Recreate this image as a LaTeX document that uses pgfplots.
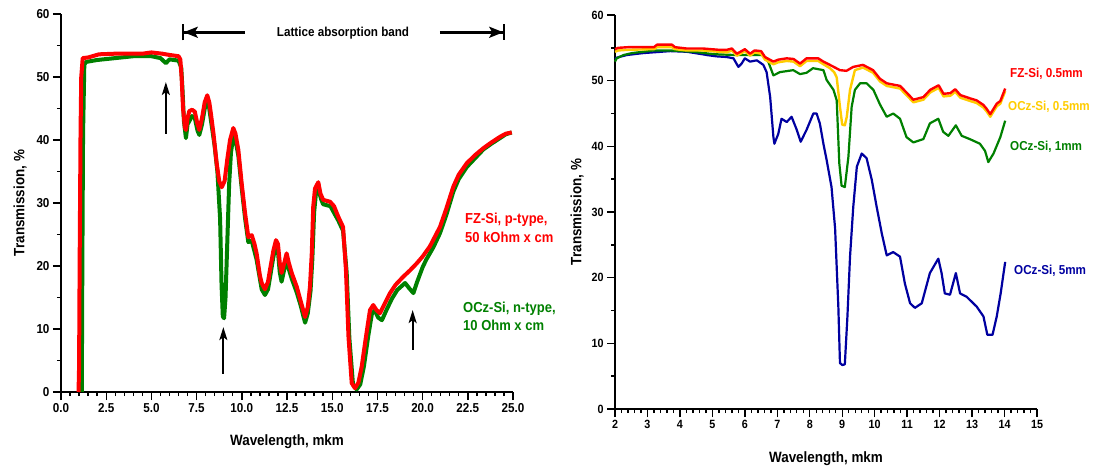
\documentclass[border=0pt]{standalone}
\usepackage{fontspec}
\setmainfont{Liberation Sans}[FakeStretch=0.9]
\usepackage{pgfplots}
\pgfplotsset{compat=1.18}
\usetikzlibrary{arrows.meta}

\definecolor{fzred}{RGB}{255,0,0}
\definecolor{czgreen}{RGB}{0,128,0}
\definecolor{czyellow}{RGB}{255,204,0}
\definecolor{czblue}{RGB}{0,0,160}

\pgfplotsset{
  spectrum/.style={
    scale only axis,
    axis lines=left,
    axis line style={-, line width=1.6bp, black},
    tick align=outside,
    major tick length=8bp,
    minor tick length=4bp,
    major tick style={line width=1.4bp, black},
    minor tick style={line width=1.4bp, black},
    ymin=0, ymax=60, ytick={0,10,...,60}, minor y tick num=1,
    tick label style={font=\fontsize{13}{13}\selectfont\bfseries},
    /pgf/number format/assume math mode=true,
    every axis x label/.style={at={(axis description cs:0.5,0)}, anchor=center, yshift=-50bp,
      font=\fontsize{15}{15}\selectfont\bfseries},
    every axis y label/.style={at={(axis description cs:0,0.5)}, anchor=center, xshift=-41bp, rotate=90,
      font=\fontsize{15}{15}\selectfont\bfseries},
    clip=false,
  },
}
\tikzset{bandarrow/.style={line width=1.8bp, -{Stealth[length=13bp,width=8bp,inset=3bp]}}}

\begin{document}
\begin{tikzpicture}
\useasboundingbox (0,0) rectangle (1095bp,470bp);

% ---------------- broad-range spectra ----------------
\begin{axis}[spectrum,
  at={(61bp,78bp)}, anchor=south west,
  width=452bp, height=378bp,
  xmin=0, xmax=25,
  xtick={0,2.5,5,7.5,10,12.5,15,17.5,20,22.5,25},
  minor x tick num=4,
  xticklabel style={/pgf/number format/.cd, fixed, fixed zerofill, precision=1},
  xlabel={Wavelength, mkm},
  ylabel={Transmission, \%}]

% OCz-Si, n-type
\addplot[czgreen, line width=4bp, line join=round] coordinates {
(1.15,0) (1.18,20) (1.22,41) (1.29,52) (1.4,52.4) (2.0,52.7) (3.0,53.0) (4.0,53.3)
(5.0,53.3) (5.5,53.0) (5.8,52.2) (6.0,52.8) (6.5,52.6) (6.65,51.5) (6.72,48) (6.8,43)
(6.91,40.3) (7.0,42.5) (7.25,43.8) (7.4,43.5) (7.55,41.5) (7.65,40.8) (7.8,42.5)
(7.95,45) (8.09,46.2) (8.2,45) (8.35,42) (8.5,39) (8.65,35) (8.8,27.5) (8.88,17)
(8.95,12) (9.02,11.7) (9.1,15) (9.2,24) (9.3,33) (9.4,38) (9.53,40.6) (9.65,40.0)
(9.81,37.5) (9.99,32.5) (10.18,27.6) (10.36,23.8) (10.55,24.0) (10.82,21) (11.1,16.3)
(11.28,15.4) (11.45,16.3) (11.56,18.2) (11.75,21.5) (11.89,23.2) (12.0,22.3) (12.1,19.0)
(12.2,17.5) (12.35,19.5) (12.48,21) (12.6,19.5) (12.76,18.0) (13.04,15.8) (13.25,13.8)
(13.5,11.0) (13.65,12.5) (13.8,16) (13.9,21) (14.0,28.5) (14.1,31.5) (14.25,32.0)
(14.4,30.5) (14.5,29.8) (14.9,29.5) (15.34,27.2) (15.6,25.6) (15.8,19) (15.95,8.5)
(16.15,1.2) (16.35,0.4) (16.55,1.2) (16.75,4) (17.0,9.0) (17.2,12.5) (17.35,12.9)
(17.55,11.8) (17.75,11.4) (18.0,13.0) (18.3,14.8) (18.6,16.2) (19.03,17.3) (19.25,16.5)
(19.49,15.7) (19.7,17.5) (20.0,19.8) (20.2,21) (20.6,23.0) (20.96,25.2) (21.3,28.0)
(21.7,31.8) (22.0,33.8) (22.44,35.7) (22.9,37.1) (23.36,38.5) (23.8,39.4) (24.28,40.3)
(24.6,40.9) (24.93,41.2)
};

% FZ-Si, p-type
\addplot[fzred, line width=4bp, line join=round] coordinates {
(0.97,0) (1.0,4) (1.03,20) (1.08,41) (1.12,50) (1.2,53.0) (1.5,53.1) (2.1,53.6)
(3.0,53.7) (4.5,53.7) (5.0,53.9) (5.6,53.7) (6.0,53.5) (6.5,53.3) (6.6,52.8) (6.67,50)
(6.75,45) (6.85,42) (6.91,41.6) (7.0,43.5) (7.1,44.6) (7.25,44.8) (7.4,44.5) (7.55,42.5)
(7.65,41.6) (7.8,43.5) (7.95,46) (8.09,47.1) (8.2,46) (8.3,44) (8.43,41.1) (8.61,36.3)
(8.75,33.5) (8.89,32.5) (9.05,33.5) (9.2,37.0) (9.35,40.0) (9.53,41.9) (9.65,41.0)
(9.81,38.4) (9.99,33.2) (10.18,28.4) (10.36,24.6) (10.55,24.9) (10.7,23.5) (10.82,22)
(11.0,18.5) (11.1,17.3) (11.28,16.3) (11.45,17.5) (11.56,19.4) (11.75,22.5) (11.89,24.1)
(12.0,23.5) (12.1,20.5) (12.2,18.9) (12.35,20.5) (12.48,22) (12.6,20.5) (12.76,18.9)
(13.04,16.7) (13.25,14.5) (13.5,11.9) (13.65,13.5) (13.77,16.7) (13.87,22) (13.95,29.4)
(14.05,32.3) (14.23,33.3) (14.35,31.5) (14.5,30.5) (14.88,30.2) (15.1,29.5) (15.34,27.8)
(15.6,26.2) (15.76,19.4) (15.9,8.8) (16.08,1.4) (16.26,0.6) (16.45,1.5) (16.63,4)
(16.9,9.4) (17.09,13) (17.27,13.8) (17.45,13.0) (17.64,12.5) (17.9,14.0) (18.2,15.7)
(18.5,17.0) (18.93,18.3) (19.3,19.3) (19.67,20.4) (20.0,21.5) (20.4,23.1) (20.96,26.2)
(21.3,29.0) (21.7,32.6) (22.0,34.5) (22.44,36.3) (22.9,37.6) (23.36,38.7) (23.8,39.6)
(24.28,40.5) (24.6,41.0) (24.93,41.2)
};

% markers of the oxygen-related bands
\draw[bandarrow] (axis cs:5.8,41) -- (axis cs:5.8,49.2);
\draw[bandarrow] (axis cs:8.98,2.9) -- (axis cs:8.98,10.3);
\draw[bandarrow] (axis cs:19.45,6.7) -- (axis cs:19.45,13.0);

% extent of the lattice absorption band
\draw[line width=2.6bp, {Bar[width=16bp,line width=1.8bp]Stealth[length=14bp,width=11bp,inset=3bp]}-]
  (axis cs:6.69,57.1) -- (axis cs:10.18,57.1);
\draw[line width=2.6bp, -{Stealth[length=14bp,width=11bp,inset=3bp]Bar[width=16bp,line width=1.8bp]}]
  (axis cs:20.96,57.1) -- (axis cs:24.56,57.1);
\node[font=\fontsize{13}{13}\selectfont\bfseries] at (axis cs:15.6,56.9) {Lattice absorption band};
\end{axis}

% ---------------- 2--14 um spectra vs thickness ----------------
\begin{axis}[spectrum,
  at={(615bp,61bp)}, anchor=south west,
  width=422bp, height=394bp,
  xmin=2, xmax=15,
  xtick={2,3,...,15},
  minor x tick num=4,
  tick label style={font=\fontsize{12}{12}\selectfont\bfseries},
  xlabel={Wavelength, mkm},
  ylabel={Transmission, \%},
  every axis y label/.style={at={(axis description cs:0,0.5)}, anchor=center, xshift=-38bp, rotate=90,
    font=\fontsize{15}{15}\selectfont\bfseries}]

% OCz-Si, 5 mm
\addplot[czblue, line width=2.2bp, line join=round] coordinates {
(2.0,53.3) (2.05,53.5) (2.36,53.9) (2.87,54.2) (3.7,54.5) (4.21,54.4) (4.72,54.0)
(4.83,53.9) (5.13,53.7) (5.44,53.6) (5.65,53.4) (5.8,52.1) (5.9,52.6) (6.0,53.4)
(6.16,52.9) (6.37,53.1) (6.57,52.4) (6.67,51.3) (6.78,47.5) (6.88,41.4) (6.91,40.4)
(7.03,41.9) (7.13,44.2) (7.29,43.7) (7.44,44.5) (7.6,42.5) (7.72,40.7) (7.9,42.5)
(8.11,45.0) (8.21,45.0) (8.31,43.5) (8.42,40.4) (8.52,37.9) (8.67,33.8) (8.78,27.5)
(8.88,15.6) (8.93,7.0) (9.0,6.7) (9.08,6.8) (9.16,14.1) (9.24,23.2) (9.34,30.8)
(9.45,36.9) (9.6,38.9) (9.75,38.2) (9.91,34.9) (10.06,30.8) (10.22,26.7) (10.37,23.4)
(10.57,23.9) (10.78,23.2) (10.93,19.1) (11.09,16.1) (11.24,15.4) (11.45,16.1)
(11.7,20.7) (11.96,22.9) (12.06,20.7) (12.16,17.6) (12.32,17.4) (12.5,20.7) (12.63,17.6)
(12.83,17.1) (13.14,15.6) (13.35,14.1) (13.47,11.3) (13.63,11.3) (13.76,14.1)
(13.88,17.6) (14.02,22.4)
};

% OCz-Si, 1 mm
\addplot[czgreen, line width=2.2bp, line join=round] coordinates {
(2.0,52.9) (2.05,53.4) (2.26,53.9) (2.52,54.2) (3.19,54.6) (3.7,54.6) (4.42,54.4)
(4.93,54.1) (5.2,54.0) (5.75,53.9) (6.57,53.9) (6.72,52.9) (6.88,50.8) (7.08,51.3)
(7.49,51.6) (7.7,51.0) (7.9,51.2) (8.1,51.9) (8.42,51.6) (8.52,50.1) (8.73,48.6)
(8.83,47.0) (8.91,37.4) (8.98,34.0) (9.08,33.8) (9.19,38.4) (9.29,46.0) (9.39,48.6)
(9.55,49.6) (9.75,49.6) (9.96,48.6) (10.16,46.4) (10.37,44.5) (10.57,45.0) (10.78,44.2)
(10.98,41.4) (11.19,40.6) (11.5,41.1) (11.7,43.5) (11.96,44.2) (12.11,42.2) (12.27,41.6)
(12.5,43.2) (12.68,41.6) (12.93,41.1) (13.24,40.4) (13.4,39.3) (13.5,37.6) (13.66,38.9)
(13.87,41.4) (14.02,43.9)
};

% OCz-Si, 0.5 mm
\addplot[czyellow, line width=2.4bp, line join=round] coordinates {
(2.0,54.4) (2.1,54.6) (2.4,54.7) (3.2,54.8) (3.3,55.1) (3.75,55.1) (3.85,54.8)
(4.2,54.6) (4.7,54.6) (5.2,54.4) (5.45,54.3) (5.6,54.6) (5.75,53.8) (5.9,54.2)
(6.0,54.5) (6.16,53.8) (6.3,54.3) (6.5,54.1) (6.62,53.2) (6.88,52.5) (7.03,52.8)
(7.29,53.0) (7.5,52.9) (7.7,52.2) (7.9,53.0) (8.26,53.0) (8.42,52.5) (8.62,51.9)
(8.75,51.3) (8.83,50.5) (8.93,46) (9.0,43.3) (9.08,43.2) (9.14,44.5) (9.24,48.6)
(9.39,51.6) (9.64,52.0) (9.95,51.2) (10.16,49.9) (10.37,49.2) (10.78,48.8) (10.98,47.8)
(11.19,46.7) (11.5,47.1) (11.71,48.2) (11.97,48.9) (12.12,47.6) (12.33,47.7) (12.48,48.3)
(12.64,47.4) (12.94,46.9) (13.14,46.6) (13.35,45.9) (13.45,45.3) (13.56,44.5)
(13.76,46.1) (13.87,46.5) (14.02,48.4)
};

% FZ-Si, 0.5 mm
\addplot[fzred, line width=2.4bp, line join=round] coordinates {
(2.0,54.8) (2.1,55.0) (2.4,55.1) (3.2,55.1) (3.3,55.5) (3.75,55.5) (3.85,55.1)
(4.2,54.9) (4.7,54.9) (5.2,54.7) (5.45,54.7) (5.6,54.9) (5.75,54.1) (5.9,54.5)
(6.0,54.8) (6.16,54.1) (6.3,54.6) (6.5,54.5) (6.62,53.6) (6.88,52.9) (7.03,53.2)
(7.29,53.4) (7.5,53.3) (7.7,52.6) (7.9,53.4) (8.26,53.4) (8.42,52.9) (8.62,52.4)
(8.93,51.6) (9.13,51.5) (9.34,52.1) (9.64,52.4) (9.95,51.6) (10.16,50.3) (10.37,49.6)
(10.78,49.2) (10.98,48.2) (11.19,47.1) (11.5,47.5) (11.71,48.6) (11.97,49.3) (12.12,48.0)
(12.33,48.1) (12.48,48.7) (12.64,47.8) (12.94,47.3) (13.14,47.0) (13.35,46.3)
(13.45,45.7) (13.56,44.9) (13.76,46.5) (13.87,46.9) (14.02,48.8)
};
\end{axis}

% curve labels
\begin{scope}[every node/.style={anchor=base west, inner sep=0pt, font=\fontsize{14.5}{14.5}\selectfont\bfseries}]
\node[text=fzred]   at (465bp,246bp) {FZ-Si, p-type,};
\node[text=fzred]   at (465bp,227bp) {50 kOhm x cm};
\node[text=czgreen] at (463bp,157bp) {OCz-Si, n-type,};
\node[text=czgreen] at (463bp,139bp) {10 Ohm x cm};
\end{scope}
\begin{scope}[every node/.style={anchor=base west, inner sep=0pt, font=\fontsize{13}{13}\selectfont\bfseries}]
\node[text=fzred]    at (1010bp,392bp) {FZ-Si, 0.5mm};
\node[text=czyellow] at (1008bp,359bp) {OCz-Si, 0.5mm};
\node[text=czgreen]  at (1010bp,319bp) {OCz-Si, 1mm};
\node[text=czblue]   at (1014bp,195bp) {OCz-Si, 5mm};
\end{scope}
\end{tikzpicture}
\end{document}
